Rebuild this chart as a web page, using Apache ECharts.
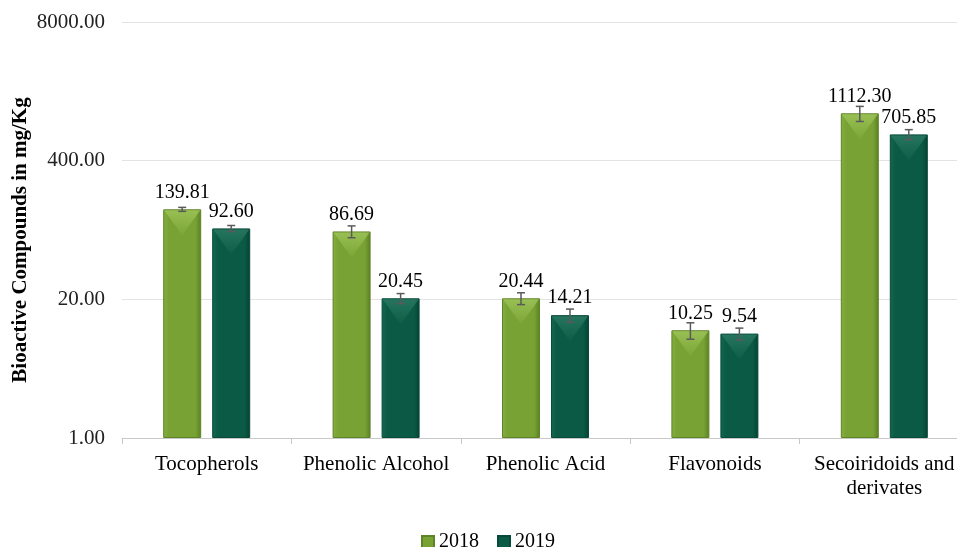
<!DOCTYPE html>
<html>
<head>
<meta charset="utf-8">
<script src="https://cdn.jsdelivr.net/npm/echarts@6/dist/echarts.min.js"></script>
<style>html,body{margin:0;padding:0;background:#fff;}#c{width:957px;height:547px;}</style>
</head>
<body>
<div id="c"></div>
<script>
const categories = ['Tocopherols', 'Phenolic Alcohol', 'Phenolic Acid', 'Flavonoids', 'Secoiridoids and\nderivates'];
const seriesNames = ['2018', '2019'];
const values2018 = [139.81, 86.69, 20.44, 10.25, 1112.30];
const values2019 = [92.60, 20.45, 14.21, 9.54, 705.85];
const err2018 = [6, 11, 2.6, 1.8, 180];
const err2019 = [6, 2.2, 2.0, 1.2, 76];
const yTicks = [1, 20, 400, 8000];

const FONT = '"Liberation Serif", "Times New Roman", serif';
const BAR_W = 38;
const GAP = 11;

function grad(a, b, c) {
  return new echarts.graphic.LinearGradient(0, 0, 1, 0, [
    {offset: 0, color: a}, {offset: 0.15, color: b}, {offset: 0.85, color: b}, {offset: 1, color: c}
  ]);
}
const col2018 = grad('#86ae40', '#78a234', '#5b7f24');
const col2019 = grad('#12694f', '#0b5a45', '#064232');
const top2018 = ['#a2c95e', '#7ea737'];
const top2019 = ['#2f7d66', '#0e5f48'];

function overlay(values, errs, sign, topCols) {
  return {
    type: 'custom',
    silent: true,
    z: 5,
    data: values.map((v, i) => [i, v, errs[i]]),
    renderItem: function (params, api) {
      const i = api.value(0), v = api.value(1), e = api.value(2);
      const c = api.coord([i, v]);
      const x = c[0] + sign * (BAR_W / 2 + GAP / 2);
      const top = c[1];
      const hi = api.coord([i, v + e])[1];
      const lo = api.coord([i, v - e])[1];
      const l = x - BAR_W / 2 + 1, r = x + BAR_W / 2 - 1;
      const th = 26;
      const errStyle = {stroke: '#5a5a5a', lineWidth: 1.5};
      return {
        type: 'group',
        children: [
          {type: 'polygon', shape: {points: [[l, top + 1], [r, top + 1], [x, top + th]]},
           style: {fill: new echarts.graphic.LinearGradient(0, 0, 0, 1, [{offset: 0, color: topCols[0]}, {offset: 1, color: topCols[1]}]), opacity: 0.75}},
          {type: 'line', shape: {x1: x, y1: hi, x2: x, y2: lo}, style: errStyle},
          {type: 'line', shape: {x1: x - 4, y1: hi, x2: x + 4, y2: hi}, style: errStyle},
          {type: 'line', shape: {x1: x - 4, y1: lo, x2: x + 4, y2: lo}, style: errStyle}
        ]
      };
    }
  };
}

const chart = echarts.init(document.getElementById('c'));
const labelCfg = {show: true, position: 'top', distance: 7, color: '#000', fontFamily: FONT, fontSize: 20,
  formatter: p => Number(p.value).toFixed(2)};
chart.setOption({
  animation: false,
  grid: {left: 122, right: -12, top: 22, bottom: 109, containLabel: false, outerBoundsMode: 'none'},
  legend: {
    data: seriesNames, bottom: -10, left: 416, itemWidth: 12, itemHeight: 12, itemGap: 18,
    icon: 'rect', textStyle: {fontFamily: FONT, fontSize: 20, color: '#000'}
  },
  xAxis: {
    type: 'category', data: categories,
    axisLine: {lineStyle: {color: '#c8c8c8'}},
    axisTick: {show: true, length: 6, interval: 0, lineStyle: {color: '#c8c8c8'}},
    axisLabel: {fontFamily: FONT, fontSize: 21, color: '#000', margin: 14, lineHeight: 24, interval: 0, hideOverlap: false}
  },
  yAxis: {
    type: 'log', logBase: 20, min: yTicks[0], max: yTicks[yTicks.length - 1], splitNumber: 3,
    name: 'Bioactive Compounds in mg/Kg', nameLocation: 'middle', nameGap: 91, nameRotate: 90, nameMoveOverlap: false,
    nameTextStyle: {fontFamily: FONT, fontSize: 21, fontWeight: 'bold', color: '#000', padding: [0, 20, 0, 0]},
    axisLine: {show: false}, axisTick: {show: false},
    splitLine: {lineStyle: {color: '#e3e3e3'}},
    axisLabel: {fontFamily: FONT, fontSize: 21, color: '#222', margin: 17,
      formatter: v => Number(v).toFixed(2)}
  },
  series: [
    {name: seriesNames[0], type: 'bar', data: values2018, barWidth: BAR_W, barGap: (GAP / BAR_W * 100) + '%',
     itemStyle: {color: col2018, borderColor: '#5f8427', borderWidth: 1}, label: labelCfg},
    {name: seriesNames[1], type: 'bar', data: values2019, barWidth: BAR_W,
     itemStyle: {color: col2019, borderColor: '#07493a', borderWidth: 1}, label: labelCfg},
    overlay(values2018, err2018, -1, top2018),
    overlay(values2019, err2019, 1, top2019)
  ]
});
</script>
</body>
</html>
